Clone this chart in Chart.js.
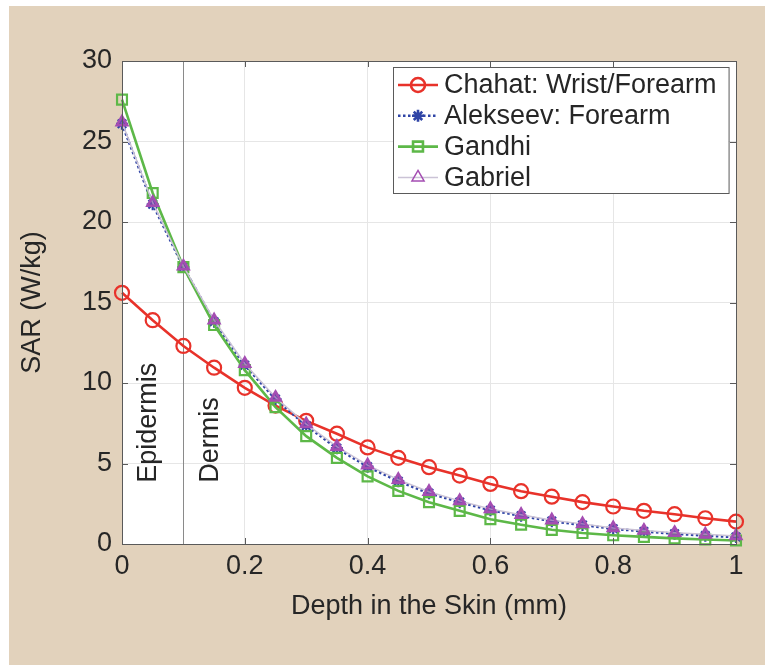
<!DOCTYPE html>
<html>
<head>
<meta charset="utf-8">
<script src="https://cdn.jsdelivr.net/npm/chart.js@4/dist/chart.umd.min.js"></script>
<style>
  html, body { margin: 0; padding: 0; background: #fff; }
  canvas { display: block; }
</style>
</head>
<body>
<canvas id="sarChart" width="765" height="665"></canvas>
<script>
// depth in the skin (mm)
const depth = [0, 0.05, 0.1, 0.15, 0.2, 0.25, 0.3, 0.35, 0.4, 0.45, 0.5,
  0.55, 0.6, 0.65, 0.7, 0.75, 0.8, 0.85, 0.9, 0.95, 1];

// SAR (W/kg)
const chahat = [15.6, 13.9, 12.3, 10.95, 9.7, 8.6, 7.65, 6.85, 6.0, 5.35, 4.77,
  4.25, 3.73, 3.28, 2.94, 2.6, 2.33, 2.06, 1.85, 1.6, 1.39];
const alekseev = [26.1, 21.1, 17.2, 13.8, 11.1, 9.0, 7.35, 5.95, 4.8, 3.9, 3.15,
  2.6, 2.1, 1.75, 1.42, 1.18, 0.95, 0.78, 0.64, 0.52, 0.43];
const gandhi = [27.6, 21.8, 17.2, 13.6, 10.8, 8.5, 6.7, 5.35, 4.2, 3.3, 2.6,
  2.06, 1.54, 1.2, 0.88, 0.68, 0.54, 0.44, 0.35, 0.28, 0.22];
const gabriel = [26.2, 21.2, 17.25, 13.9, 11.2, 9.1, 7.45, 6.05, 4.9, 4.0, 3.25,
  2.68, 2.18, 1.82, 1.48, 1.25, 1.0, 0.84, 0.7, 0.6, 0.5];

const seriesLabels = ['Chahat: Wrist/Forearm', 'Alekseev: Forearm', 'Gandhi', 'Gabriel'];

const xTicks = [0, 0.2, 0.4, 0.6, 0.8, 1];
const yTicks = [0, 5, 10, 15, 20, 25, 30];

// layer boundary and layer names
const layerBoundary = 0.1;
const layerNames = [
  { text: 'Epidermis', x: 0.055, y: 3.8 },
  { text: 'Dermis', x: 0.156, y: 3.8 }
];

const FONT = '"Liberation Sans", Arial, Helvetica, sans-serif';
const TEXT = '#262626';
const BEIGE = '#e2d2bc';

const toPoints = (ys) => ys.map((y, i) => ({ x: depth[i], y }));

// page background, beige panel and white axes
const backgroundPlugin = {
  id: 'background',
  beforeDraw(chart) {
    const { ctx, chartArea: a } = chart;
    ctx.save();
    ctx.fillStyle = '#fff';
    ctx.fillRect(0, 0, chart.width, chart.height);
    ctx.fillStyle = BEIGE;
    ctx.fillRect(9, 6, chart.width - 9, chart.height - 6);
    ctx.fillStyle = '#fff';
    ctx.fillRect(a.left, a.top, a.right - a.left, a.bottom - a.top);
    ctx.restore();
  }
};

// dermis boundary line + layer labels (under the data)
const layersPlugin = {
  id: 'layers',
  beforeDatasetsDraw(chart) {
    const { ctx, chartArea: a, scales: { x, y } } = chart;
    const bx = Math.round(x.getPixelForValue(layerBoundary)) + 0.5;
    ctx.save();
    ctx.strokeStyle = '#8a8a8a';
    ctx.lineWidth = 1;
    ctx.beginPath();
    ctx.moveTo(bx, a.top);
    ctx.lineTo(bx, a.bottom);
    ctx.stroke();

    ctx.fillStyle = TEXT;
    ctx.font = '27px ' + FONT;
    ctx.textAlign = 'left';
    ctx.textBaseline = 'alphabetic';
    layerNames.forEach(l => {
      ctx.save();
      ctx.translate(x.getPixelForValue(l.x), y.getPixelForValue(l.y));
      ctx.rotate(-Math.PI / 2);
      ctx.fillText(l.text, 0, 0);
      ctx.restore();
    });
    ctx.restore();
  }
};

// MATLAB-like box with inward ticks, and the legend
const boxLegendPlugin = {
  id: 'boxLegend',
  afterDraw(chart) {
    const { ctx, chartArea: a, scales: { x, y } } = chart;
    ctx.save();
    ctx.strokeStyle = '#5a5a5a';
    ctx.lineWidth = 1;
    ctx.strokeRect(Math.round(a.left) + 0.5, Math.round(a.top) + 0.5,
      Math.round(a.right - a.left), Math.round(a.bottom - a.top));
    const tl = 6;
    ctx.beginPath();
    xTicks.forEach(v => {
      const px = Math.round(x.getPixelForValue(v)) + 0.5;
      ctx.moveTo(px, a.bottom); ctx.lineTo(px, a.bottom - tl);
      ctx.moveTo(px, a.top); ctx.lineTo(px, a.top + tl);
    });
    yTicks.forEach(v => {
      const py = Math.round(y.getPixelForValue(v)) + 0.5;
      ctx.moveTo(a.left, py); ctx.lineTo(a.left + tl, py);
      ctx.moveTo(a.right, py); ctx.lineTo(a.right - tl, py);
    });
    ctx.stroke();

    // legend
    ctx.font = '27px ' + FONT;
    const textW = Math.max(...chart.data.datasets.map(d => ctx.measureText(d.label).width));
    const lx = 393, ly = 67, rowH = 30.8;
    const w = 51 + textW + 12, h = 126;
    ctx.fillStyle = '#fff';
    ctx.fillRect(lx, ly, w, h);
    ctx.strokeStyle = '#5a5a5a';
    ctx.strokeRect(lx + 0.5, ly + 0.5, w, h);
    chart.data.datasets.forEach((d, i) => {
      const cy = ly + 18 + i * rowH;
      ctx.save();
      ctx.strokeStyle = d.borderColor;
      ctx.lineWidth = d.borderWidth;
      ctx.setLineDash(d.borderDash || []);
      ctx.beginPath();
      ctx.moveTo(lx + 5, cy);
      ctx.lineTo(lx + 45, cy);
      ctx.stroke();
      ctx.setLineDash([]);
      ctx.strokeStyle = d.pointBorderColor;
      ctx.fillStyle = 'rgba(0,0,0,0)';
      Chart.helpers.drawPoint(ctx, {
        pointStyle: d.pointStyle, rotation: 0,
        radius: d.pointStyle === 'triangle' ? 7 : d.pointRadius,
        borderWidth: d.pointBorderWidth
      }, lx + 25, cy);
      ctx.restore();
      ctx.fillStyle = TEXT;
      ctx.textAlign = 'left';
      ctx.textBaseline = 'middle';
      ctx.fillText(d.label, lx + 51, cy + 1);
    });
    ctx.restore();
  }
};

const ctx = document.getElementById('sarChart').getContext('2d');
const sarChart = new Chart(ctx, {
  type: 'line',
  data: {
    datasets: [{
      label: seriesLabels[0],
      data: toPoints(chahat),
      borderColor: '#e8322a',
      borderWidth: 2.6,
      pointStyle: 'circle',
      pointRadius: 7,
      pointBorderColor: '#e8322a',
      pointBorderWidth: 2.2,
      pointBackgroundColor: 'rgba(0,0,0,0)',
      order: 3
    }, {
      label: seriesLabels[1],
      data: toPoints(alekseev),
      borderColor: '#2f44a6',
      borderWidth: 2.6,
      borderDash: [2.5, 2.5],
      pointStyle: 'star',
      pointRadius: 6,
      pointBorderColor: '#2f44a6',
      pointBorderWidth: 2.2,
      pointBackgroundColor: 'rgba(0,0,0,0)',
      order: 2
    }, {
      label: seriesLabels[2],
      data: toPoints(gandhi),
      borderColor: '#5db848',
      borderWidth: 2.6,
      pointStyle: 'rect',
      pointRadius: 7,
      pointBorderColor: '#5db848',
      pointBorderWidth: 2.2,
      pointBackgroundColor: 'rgba(0,0,0,0)',
      order: 1
    }, {
      label: seriesLabels[3],
      data: toPoints(gabriel),
      borderColor: '#cbc3d6',
      borderWidth: 1.5,
      pointStyle: 'triangle',
      pointRadius: 6,
      pointBorderColor: '#a44db2',
      pointBorderWidth: 2.6,
      pointBackgroundColor: 'rgba(150, 80, 175, 0.55)',
      order: 0
    }]
  },
  options: {
    responsive: false,
    animation: false,
    clip: false,
    layout: { padding: { left: 9, right: 29, top: 61, bottom: 41 } },
    plugins: {
      legend: { display: false },
      tooltip: { enabled: false }
    },
    scales: {
      x: {
        type: 'linear',
        min: 0,
        max: 1,
        afterBuildTicks: (s) => { s.ticks = xTicks.map(v => ({ value: v })); },
        afterFit: (s) => { s.height = 80; },
        grid: { color: '#e6e6e6', drawTicks: false },
        border: { display: false },
        ticks: {
          color: TEXT, padding: 6,
          font: { family: FONT, size: 27 },
          callback: (v) => String(v)
        },
        title: {
          display: true, text: 'Depth in the Skin (mm)', color: TEXT,
          font: { family: FONT, size: 27 },
          padding: { top: 0, bottom: 1 }
        }
      },
      y: {
        min: 0,
        max: 30,
        afterBuildTicks: (s) => { s.ticks = yTicks.map(v => ({ value: v })); },
        afterFit: (s) => { s.width = 113; },
        grid: { color: '#e6e6e6', drawTicks: false },
        border: { display: false },
        ticks: {
          color: TEXT, padding: 10,
          font: { family: FONT, size: 27 },
          callback: (v) => String(v)
        },
        title: {
          display: true, text: 'SAR (W/kg)', color: TEXT,
          font: { family: FONT, size: 27 },
          padding: { top: 7, bottom: 0 }
        }
      }
    }
  },
  plugins: [backgroundPlugin, layersPlugin, boxLegendPlugin]
});
</script>
</body>
</html>
